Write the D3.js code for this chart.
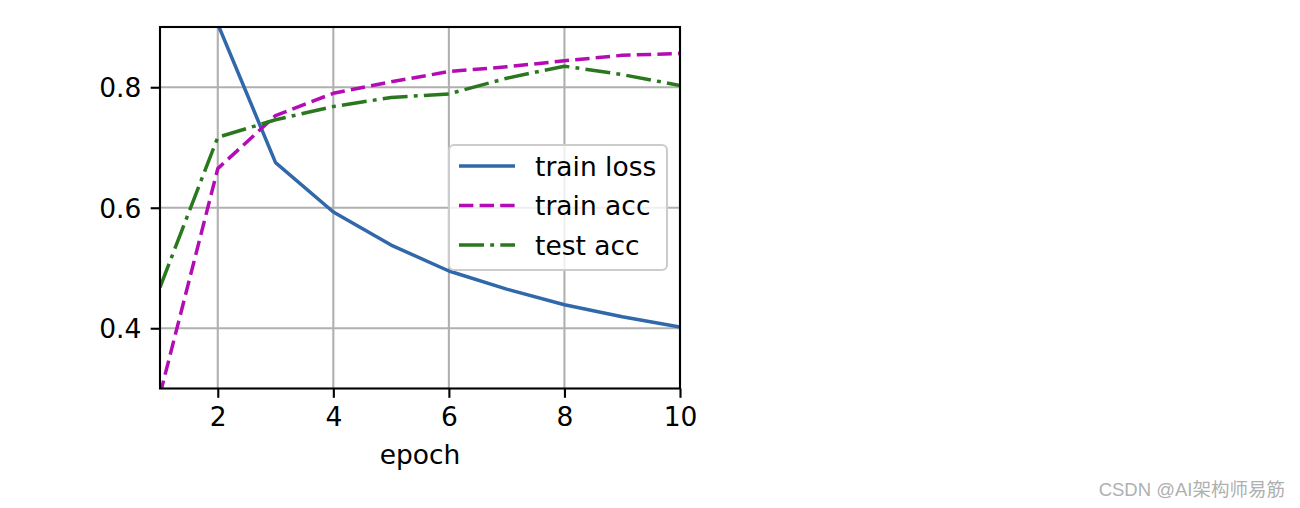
<!DOCTYPE html>
<html>
<head>
<meta charset="utf-8">
<script src="https://cdn.jsdelivr.net/npm/d3@7"></script>
<style>
  html, body { margin: 0; padding: 0; background: #ffffff; }
  svg { display: block; }
</style>
</head>
<body>
<svg id="chart" width="1300" height="508"></svg>
<script>
// ---- data ----
const epochs = [1, 2, 3, 4, 5, 6, 7, 8, 9, 10];
const trainLoss = [1.20, 0.905, 0.675, 0.593, 0.538, 0.495, 0.465, 0.439, 0.419, 0.402];
const trainAcc  = [0.29, 0.665, 0.753, 0.790, 0.809, 0.826, 0.834, 0.844, 0.853, 0.856];
const testAcc   = [0.468, 0.717, 0.746, 0.768, 0.783, 0.789, 0.815, 0.835, 0.821, 0.803];
const seriesNames = ["train loss", "train acc", "test acc"];
const xTicks = [2, 4, 6, 8, 10];
const yTicks = [0.4, 0.6, 0.8];
const xDomain = [1, 10];
const yDomain = [0.3, 0.9];
const xLabel = "epoch";
const watermark = "CSDN @AI架构师易筋";

// ---- layout / style ----
const L = 160, R = 680, T = 27, B = 388.5;
const font = "'DejaVu Sans', sans-serif";
const fs = 26.5;
const colors = ["#3068aa", "#b40cb4", "#2a781e"];
const dashes = [null, "14.4,6.2", "25,6.2,3.9,6.2"];
const lw = 3.5;

const svg = d3.select("#chart");
const x = d3.scaleLinear().domain(xDomain).range([L, R]);
const y = d3.scaleLinear().domain(yDomain).range([B, T]);

// grid
const grid = svg.append("g");
grid.selectAll("line.gx").data(xTicks).join("line")
  .attr("x1", d => x(d)).attr("x2", d => x(d)).attr("y1", T).attr("y2", B)
  .attr("stroke", "#b0b0b0").attr("stroke-width", 2.1);
grid.selectAll("line.gy").data(yTicks).join("line")
  .attr("y1", d => y(d)).attr("y2", d => y(d)).attr("x1", L).attr("x2", R)
  .attr("stroke", "#b0b0b0").attr("stroke-width", 2.1);

// clip
svg.append("clipPath").attr("id", "clip").append("rect")
  .attr("x", L).attr("y", T).attr("width", R - L).attr("height", B - T);

const series = [trainLoss, trainAcc, testAcc];
const line = d3.line().x((d, i) => x(epochs[i])).y(d => y(d));
const lines = svg.append("g").attr("clip-path", "url(#clip)");
series.forEach((s, k) => {
  lines.append("path").datum(s)
    .attr("d", line)
    .attr("fill", "none")
    .attr("stroke", colors[k])
    .attr("stroke-width", lw)
    .attr("stroke-linejoin", "round")
    .attr("stroke-dasharray", dashes[k]);
});

// axes
const xAxis = d3.axisBottom(x).tickValues(xTicks).tickSize(9.3).tickPadding(9.3).tickFormat(d3.format("d"));
const yAxis = d3.axisLeft(y).tickValues(yTicks).tickSize(9.3).tickPadding(9.3).tickFormat(d3.format(".1f"));
const gx = svg.append("g").attr("transform", `translate(0,${B})`).call(xAxis);
const gy = svg.append("g").attr("transform", `translate(${L},0)`).call(yAxis);
[gx, gy].forEach(g => {
  g.select(".domain").remove();
  g.selectAll(".tick line").attr("stroke", "#000").attr("stroke-width", 2.1);
  g.selectAll(".tick text").attr("fill", "#000").style("font-family", font).style("font-size", fs + "px");
});
gx.selectAll(".tick text").attr("dy", null).attr("y", 9.3 + 9.3 + 0.729 * fs);
gy.selectAll(".tick text").attr("dy", null).attr("y", 0.364 * fs);

// spines
svg.append("rect").attr("x", L).attr("y", T).attr("width", R - L).attr("height", B - T)
  .attr("fill", "none").attr("stroke", "#000").attr("stroke-width", 2.1);

// x label
svg.append("text").attr("x", (L + R) / 2).attr("y", 464)
  .attr("text-anchor", "middle").style("font-family", font).style("font-size", fs + "px")
  .text(xLabel);

// legend
const lgX = 449, lgY = 145, lgW = 218, lgH = 125;
const leg = svg.append("g");
leg.append("rect").attr("x", lgX).attr("y", lgY).attr("width", lgW).attr("height", lgH)
  .attr("rx", 5).attr("ry", 5)
  .attr("fill", "#ffffff").attr("fill-opacity", 0.8)
  .attr("stroke", "#cccccc").attr("stroke-width", 2.1);
const rowY = [166, 205.5, 245];
seriesNames.forEach((name, k) => {
  leg.append("line").attr("x1", lgX + 10).attr("x2", lgX + 66)
    .attr("y1", rowY[k]).attr("y2", rowY[k])
    .attr("stroke", colors[k]).attr("stroke-width", lw)
    .attr("stroke-dasharray", dashes[k]);
  leg.append("text").attr("x", lgX + 86).attr("y", rowY[k] + 0.364 * fs)
    .style("font-family", font).style("font-size", fs + "px").attr("fill", "#000")
    .text(name);
});

// watermark
svg.append("text").attr("x", 1285).attr("y", 496)
  .attr("text-anchor", "end")
  .style("font-family", "'Liberation Sans', 'Noto Sans CJK SC', sans-serif")
  .style("font-size", "18.5px").attr("fill", "#b0b0b0")
  .text(watermark);
</script>
</body>
</html>
